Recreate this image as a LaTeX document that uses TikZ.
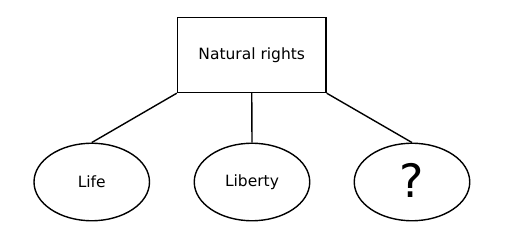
\documentclass[tikz,border=0pt]{standalone}
\usepackage{fontspec}
\setmainfont{DejaVu Sans}
\usetikzlibrary{shapes.geometric}
\begin{document}
\begin{tikzpicture}[x=1pt,y=-1pt,
  every node/.style={line width=1.4pt},
  rightsbox/.style={draw, rectangle, minimum width=148.5pt, minimum height=75pt, inner sep=0pt, font=\fontsize{15.5}{18}\selectfont},
  rightsoval/.style={draw, ellipse, minimum width=115.5pt, minimum height=77.5pt, inner sep=0pt, font=\fontsize{15.5}{18}\selectfont},
  conn/.style={line width=1.4pt}]
\useasboundingbox (0,0) rectangle (511,240);
\node[rightsbox] (nr) at (251.75,55) {Natural rights};
\node[rightsoval] (life) at (91.75,182) {Life};
\node[rightsoval] (lib) at (252,182) {Liberty};
\node[rightsoval, font=\fontsize{46}{50}\selectfont] (q) at (412,182) {\raisebox{2.5pt}{?}};
\draw[conn] (nr.south west) -- (life.north);
\draw[conn] (nr.south) -- (lib.north);
\draw[conn] (nr.south east) -- (q.north);
\end{tikzpicture}
\end{document}
